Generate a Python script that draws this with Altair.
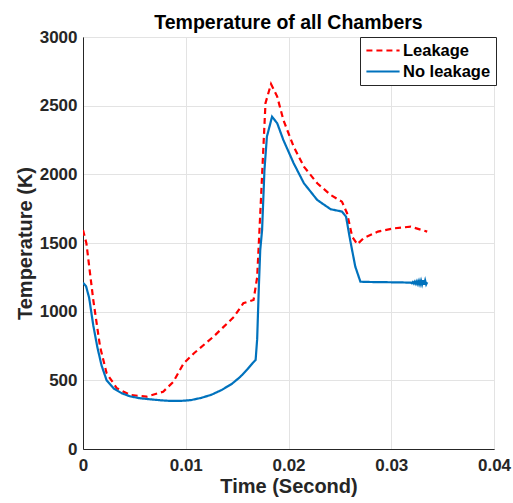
import altair as alt
import pandas as pd

# No leakage (solid blue)
t_noleak = [0.0, 0.0003, 0.0006, 0.001, 0.0014, 0.0018, 0.0023, 0.003, 0.0038, 0.0046,
            0.0055, 0.0065, 0.0075, 0.0085, 0.0095, 0.0105, 0.0115, 0.0125, 0.0135, 0.0145,
            0.0153, 0.016, 0.0165, 0.0168, 0.01695, 0.0171, 0.01725, 0.01743, 0.01766, 0.0179,
            0.0184, 0.0189, 0.0195, 0.0205, 0.0215, 0.0228, 0.0241, 0.0252, 0.0256, 0.026,
            0.0265, 0.027, 0.028, 0.029, 0.030, 0.031, 0.0319,
            0.0320, 0.0321, 0.0322, 0.0323, 0.0324, 0.0325, 0.0326, 0.0327, 0.0328, 0.0329,
            0.0330, 0.0331, 0.0332, 0.0333, 0.0334, 0.0335]
T_noleak = [1210, 1185, 1100, 900, 740, 610, 500, 440, 405, 383,
            370, 362, 355, 350, 350, 356, 372, 395, 430, 475,
            525, 580, 625, 648, 800, 1150, 1450, 1595, 2032, 2275,
            2420, 2372, 2250, 2081, 1935, 1813, 1746, 1729, 1692, 1522,
            1328, 1218, 1216, 1215, 1214, 1213, 1211,
            1207, 1216, 1205, 1219, 1203, 1221, 1201, 1224, 1199, 1226,
            1198, 1228, 1197, 1227, 1199, 1214]

# Leakage (dashed red)
t_leak = [0.0, 0.00033, 0.001, 0.00166, 0.0023, 0.0033, 0.0046, 0.0062, 0.0078, 0.0088,
          0.0098, 0.0108, 0.0127, 0.0147, 0.0156, 0.0166, 0.01695, 0.01727, 0.01776, 0.0183,
          0.0189, 0.0195, 0.0205, 0.0215, 0.0228, 0.0241, 0.0252, 0.0257, 0.0262, 0.0267,
          0.0273, 0.0287, 0.0303, 0.0319, 0.0335]
T_leak = [1595, 1498, 1085, 745, 551, 442, 393, 381, 417, 490,
          624, 697, 818, 963, 1061, 1085, 1250, 1741, 2518, 2658,
          2566, 2396, 2202, 2056, 1935, 1850, 1801, 1717, 1546, 1491,
          1535, 1583, 1607, 1619, 1583]

series = ["Leakage", "No leakage"]
colors = ["#FF0000", "#0072BD"]
dashes = [[6, 4], [1, 0]]

df = pd.concat([
    pd.DataFrame({"t": t_leak, "T": T_leak, "s": series[0], "o": range(len(t_leak))}),
    pd.DataFrame({"t": t_noleak, "T": T_noleak, "s": series[1], "o": range(len(t_noleak))}),
])

font = "Liberation Sans"
leg = alt.Legend(title=None, orient="none", legendX=277, legendY=0)

chart = alt.Chart(df).mark_line(strokeWidth=2.2, clip=True).encode(
    x=alt.X("t:Q", scale=alt.Scale(domain=[0, 0.04], nice=False),
            axis=alt.Axis(title="Time (Second)", values=[0, 0.01, 0.02, 0.03, 0.04],
                          labelExpr="datum.value == 0 ? '0' : format(datum.value, '.2f')",
                          labelFlush=False, labelPadding=8, titlePadding=3)),
    y=alt.Y("T:Q", scale=alt.Scale(domain=[0, 3000], nice=False),
            axis=alt.Axis(title="Temperature (K)", values=[0, 500, 1000, 1500, 2000, 2500, 3000],
                          format="d", labelFlush=False, labelPadding=6, titlePadding=4)),
    color=alt.Color("s:N", scale=alt.Scale(domain=series, range=colors), legend=leg),
    strokeDash=alt.StrokeDash("s:N", scale=alt.Scale(domain=series, range=dashes), legend=leg),
    order="o:Q",
).properties(
    width=411, height=412,
    title=alt.TitleParams("Temperature of all Chambers", fontSize=19.5, font=font,
                          fontWeight="bold", color="black", offset=1, dy=6, anchor="middle"),
    autosize=alt.AutoSizeParams(type="none"),
    padding={"left": 83, "top": 37, "right": 19, "bottom": 54},
).configure_view(
    stroke="#262626", strokeWidth=1
).configure_axis(
    grid=True, gridColor="#e3e3e3", gridWidth=1,
    domainColor="#262626", ticks=False,
    labelFont=font, labelFontSize=17, labelFontWeight="bold", labelColor="#262626",
    titleFont=font, titleFontSize=20, titleFontWeight="bold", titleColor="#262626",
).configure_legend(
    strokeColor="#262626", fillColor="white", padding=5,
    symbolType="stroke", symbolSize=1100, symbolStrokeWidth=2.2,
    labelFont=font, labelFontSize=16.5, labelFontWeight="bold", labelColor="black",
    labelOffset=2, rowPadding=4, clipHeight=17, cornerRadius=0,
)

chart.save("out.html", embed_options={"renderer": "svg", "actions": False})
